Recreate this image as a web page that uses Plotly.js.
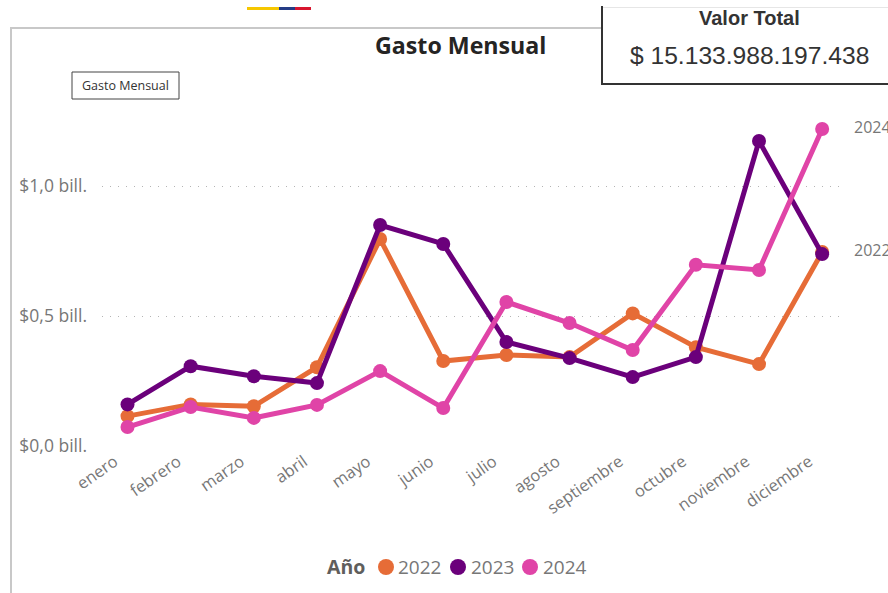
<!DOCTYPE html>
<html>
<head>
<meta charset="utf-8">
<script src="https://cdn.plot.ly/plotly-3.0.1.min.js"></script>
<style>html,body{margin:0;padding:0;background:#fff;overflow:hidden}#c{width:888px;height:593px}</style>
</head>
<body>
<div id="c"></div>
<script>
const months = ['enero','febrero','marzo','abril','mayo','junio','julio','agosto','septiembre','octubre','noviembre','diciembre'];
const v2022 = [0.115,0.16,0.153,0.303,0.796,0.327,0.35,0.342,0.51,0.38,0.315,0.746];
const v2023 = [0.16,0.307,0.268,0.242,0.85,0.777,0.4,0.338,0.265,0.342,1.173,0.738];
const v2024 = [0.073,0.15,0.108,0.158,0.288,0.146,0.554,0.473,0.369,0.697,0.677,1.219];
const years = ['2022','2023','2024'];
const colors = ['#E66C37','#6B007B','#E044A7'];
const yTickVals = [0,0.5,1];
const yTickText = ['$0,0 bill.','$0,5 bill.','$1,0 bill.'];

const W = 888, H = 593;
const mL = 102, mR = 45, mT = 100, mB = 147;
const px = x => (x - mL) / (W - mL - mR);
const py = y => 1 - (y - mT) / (H - mT - mB);
const seg = 'Open Sans, sans-serif';
const arial = 'Liberation Sans, Arial, sans-serif';
const grey = '#777777';

const traces = [v2022, v2023, v2024].map((vals, i) => ({
  type: 'scatter', mode: 'lines+markers', name: years[i],
  x: months, y: vals,
  line: {color: colors[i], width: 5, shape: 'linear'},
  marker: {color: colors[i], size: 14},
  cliponaxis: false, showlegend: false
}));

function label(text, x, y, size, color, family, anchor) {
  return {
    text, xref: 'paper', yref: 'paper', x: px(x), y: py(y),
    xanchor: anchor || 'center', yanchor: 'middle', showarrow: false,
    font: {family: family || seg, size, color}
  };
}

const legendDots = [386, 458, 530];
const legendText = [396, 468.5, 540.5];

const annotations = [
  label('<b>Gasto Mensual</b>', 460, 44.5, 23.2, '#252423'),
  label('Gasto Mensual', 125.5, 85.5, 12.5, '#333333'),
  label('<b>Valor Total</b>', 749, 18, 20, '#333333', arial),
  label('$ 15.133.988.197.438', 749, 55, 24.6, '#333333', arial),
  label('<b>Año</b>', 345.5, 566.5, 19.5, '#605E5C'),
  {text: '2024', xref: 'x', yref: 'y', x: 'diciembre', y: v2024[11], xanchor: 'left', yanchor: 'middle', xshift: 30, yshift: 2, showarrow: false, font: {family: seg, size: 16, color: grey}},
  {text: '2022', xref: 'x', yref: 'y', x: 'diciembre', y: v2022[11], xanchor: 'left', yanchor: 'middle', xshift: 30, yshift: 2, showarrow: false, font: {family: seg, size: 16, color: grey}}
].concat(years.map((t, i) => label(t, legendText[i], 566.5, 19, grey, seg, 'left')));

function rect(x0, y0, x1, y1, fill, lineColor, lw) {
  return {type: 'rect', xref: 'paper', yref: 'paper', layer: 'above',
    x0: px(x0), x1: px(x1), y0: py(y0), y1: py(y1),
    fillcolor: fill, line: {color: lineColor || fill, width: lw === undefined ? 0 : lw}};
}

const shapes = [
  rect(10, 27, 12, 593, '#C8C8C8'),
  rect(10, 27, 602, 29, '#C8C8C8'),
  rect(247, 7, 279, 10, '#F6C700'),
  rect(279, 7, 295, 10, '#253C85'),
  rect(295, 7, 311, 10, '#D8152F'),
  rect(72, 72, 179, 99, 'rgba(0,0,0,0)', '#444444', 1),
  rect(602, 7, 892, 84, 'rgba(255,255,255,0)', '#333333', 2),
  rect(603, 6, 890, 8, '#FFFFFF'),
  rect(603, 7, 890, 8, '#E6E6E6')
].concat(legendDots.map((x, i) => ({
  type: 'circle', xref: 'paper', yref: 'paper', layer: 'above',
  x0: px(x - 8), x1: px(x + 8), y0: py(567 - 8), y1: py(567 + 8),
  fillcolor: colors[i], line: {width: 0}
})));

const layout = {
  width: W, height: H,
  margin: {l: mL, r: mR, t: mT, b: mB, pad: 0},
  paper_bgcolor: '#fff', plot_bgcolor: '#fff',
  showlegend: false,
  font: {family: seg, color: grey},
  xaxis: {
    type: 'category', categoryorder: 'array', categoryarray: months,
    range: [-0.404, 11.33], tickangle: -35, showgrid: false, zeroline: false,
    showline: false, ticks: '', tickfont: {family: seg, size: 16.5, color: grey},
    ticklabelshift: -13, ticklabelstandoff: 2, automargin: false
  },
  yaxis: {
    range: [0, 1.3308], tickvals: yTickVals, ticktext: yTickText,
    showgrid: true, gridcolor: '#B4B4B4', gridwidth: 1, griddash: '1px,7px',
    zeroline: false, showline: false, ticks: '', ticklabelstandoff: 14,
    tickfont: {family: seg, size: 17.5, color: grey}, automargin: false
  },
  annotations, shapes
};

Plotly.newPlot('c', traces, layout, {displayModeBar: false, responsive: false});
</script>
</body>
</html>
